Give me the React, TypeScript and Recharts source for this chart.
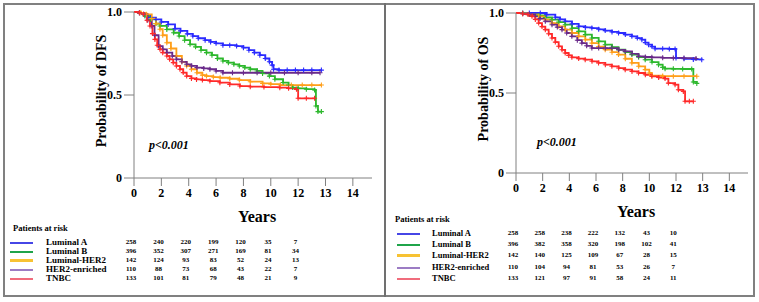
import { LineChart, Line, XAxis, YAxis } from 'recharts';

// time is in axis units (ticks every 2 units, labelled 0..12, 13, 14)
const xTickValues = [0, 2, 4, 6, 8, 10, 12, 14, 16];
const xTickLabels = ['0', '2', '4', '6', '8', '10', '12', '13', '14'];
const yTickValues = [0, 0.5, 1];

const groups = ['Luminal A', 'Luminal B', 'Luminal-HER2', 'HER2-enriched', 'TNBC'];
const lineColors = ['#2b2bff', '#2db82d', '#ff9f1a', '#6a2a8a', '#ff2a2a'];
const legendColors = ['#4646e6', '#1fa44a', '#f7c233', '#9c7cc4', '#f06c7c'];
const legendWidths = [1.5, 2, 3, 1.5, 1.5];

type Pt = [number, number];

const dfsLuminalA: Pt[] = [[0, 1], [0.4, 0.995], [0.8, 0.98], [1.2, 0.966], [1.6, 0.955], [2.0, 0.94], [2.5, 0.925], [3.0, 0.9], [3.4, 0.886], [3.9, 0.868], [4.3, 0.855], [4.7, 0.842], [5.2, 0.83], [5.6, 0.82], [6.0, 0.811], [6.5, 0.8], [7.0, 0.8], [7.5, 0.795], [8.0, 0.785], [8.4, 0.77], [8.8, 0.755], [9.2, 0.74], [9.6, 0.72], [9.9, 0.7], [10.1, 0.68], [10.2, 0.655], [10.6, 0.65], [11.2, 0.65], [11.8, 0.65], [12.4, 0.65], [13.0, 0.65], [13.7, 0.65]];
const dfsLuminalB: Pt[] = [[0, 1], [0.4, 0.995], [0.8, 0.976], [1.2, 0.955], [1.6, 0.93], [1.9, 0.916], [2.4, 0.895], [2.9, 0.875], [3.3, 0.855], [3.7, 0.83], [4.1, 0.805], [4.5, 0.79], [4.9, 0.77], [5.3, 0.755], [5.7, 0.74], [6.1, 0.72], [6.5, 0.705], [6.9, 0.695], [7.3, 0.685], [7.7, 0.675], [8.1, 0.665], [8.5, 0.655], [9.0, 0.645], [9.4, 0.63], [9.9, 0.614], [10.3, 0.595], [10.9, 0.575], [11.3, 0.56], [11.6, 0.545], [12.0, 0.54], [12.6, 0.535], [13.2, 0.53], [13.3, 0.434], [13.45, 0.4], [13.7, 0.4]];
const dfsLuminalHer2: Pt[] = [[0, 1], [0.5, 0.995], [0.9, 0.986], [1.3, 0.96], [1.6, 0.93], [1.9, 0.896], [2.1, 0.86], [2.4, 0.815], [2.7, 0.78], [3.1, 0.735], [3.5, 0.7], [3.85, 0.675], [4.2, 0.655], [4.6, 0.634], [5.0, 0.62], [5.3, 0.614], [5.8, 0.608], [6.3, 0.604], [7.0, 0.598], [7.7, 0.59], [8.5, 0.58], [9.4, 0.57], [10.0, 0.565], [10.7, 0.56], [11.5, 0.56], [12.3, 0.56], [13.0, 0.56], [13.7, 0.56]];
const dfsHer2Enriched: Pt[] = [[0, 1], [0.4, 0.995], [0.7, 0.986], [1.0, 0.95], [1.3, 0.916], [1.5, 0.86], [1.8, 0.795], [2.1, 0.775], [2.4, 0.755], [2.8, 0.735], [3.1, 0.715], [3.5, 0.7], [3.85, 0.685], [4.2, 0.675], [4.6, 0.665], [5.1, 0.66], [5.55, 0.655], [6.0, 0.645], [6.5, 0.634], [7.2, 0.634], [8.0, 0.634], [9.0, 0.634], [10.0, 0.634], [11.0, 0.634], [12.0, 0.634], [13.0, 0.634], [13.6, 0.634]];
const dfsTnbc: Pt[] = [[0, 1], [0.4, 0.995], [0.7, 0.986], [0.95, 0.95], [1.17, 0.916], [1.35, 0.87], [1.53, 0.835], [1.7, 0.8], [1.9, 0.775], [2.1, 0.755], [2.4, 0.735], [2.6, 0.715], [2.87, 0.695], [3.1, 0.675], [3.36, 0.655], [3.6, 0.635], [3.85, 0.614], [4.2, 0.6], [4.57, 0.594], [5.0, 0.59], [5.55, 0.584], [6.28, 0.574], [7.0, 0.564], [7.74, 0.554], [8.5, 0.55], [9.5, 0.548], [10.66, 0.544], [11.3, 0.54], [11.88, 0.534], [12.0, 0.48], [12.6, 0.48], [13.2, 0.48]];

const osLuminalA: Pt[] = [[0, 1], [0.5, 1], [1.0, 1], [1.82, 1], [2.3, 0.99], [2.95, 0.973], [3.3, 0.96], [3.69, 0.948], [4.2, 0.932], [4.7, 0.917], [5.2, 0.91], [5.69, 0.906], [6.2, 0.898], [6.69, 0.89], [7.2, 0.882], [7.69, 0.875], [8.2, 0.865], [8.69, 0.854], [9.1, 0.843], [9.44, 0.833], [9.7, 0.815], [9.94, 0.802], [10.2, 0.79], [10.43, 0.777], [11.0, 0.777], [11.5, 0.775], [11.93, 0.775], [12.0, 0.719], [12.6, 0.714], [13.3, 0.71], [13.93, 0.708]];
const osLuminalB: Pt[] = [[0, 1], [0.5, 0.998], [1.0, 0.99], [1.7, 0.985], [2.2, 0.972], [2.7, 0.958], [3.2, 0.943], [3.69, 0.927], [4.2, 0.905], [4.7, 0.885], [5.2, 0.865], [5.69, 0.844], [6.2, 0.823], [6.69, 0.802], [7.2, 0.786], [7.69, 0.771], [8.2, 0.756], [8.69, 0.74], [9.2, 0.724], [9.69, 0.708], [10.2, 0.693], [10.69, 0.677], [11.0, 0.66], [11.18, 0.652], [11.8, 0.651], [12.5, 0.65], [13.18, 0.65], [13.3, 0.569], [13.56, 0.56]];
const osLuminalHer2: Pt[] = [[0, 1], [0.5, 0.998], [1.0, 0.99], [1.7, 0.979], [2.2, 0.958], [2.7, 0.937], [3.2, 0.917], [3.69, 0.896], [4.2, 0.875], [4.7, 0.854], [5.2, 0.833], [5.69, 0.812], [6.2, 0.79], [6.69, 0.771], [7.2, 0.755], [7.69, 0.74], [8.2, 0.714], [8.69, 0.688], [9.2, 0.667], [9.69, 0.646], [10.0, 0.625], [10.19, 0.608], [11.0, 0.606], [11.8, 0.605], [12.6, 0.605], [13.56, 0.605]];
const osHer2Enriched: Pt[] = [[0, 1], [0.5, 0.995], [1.0, 0.99], [1.45, 0.979], [1.8, 0.965], [2.2, 0.948], [2.7, 0.927], [3.1, 0.912], [3.45, 0.896], [3.8, 0.875], [4.19, 0.854], [4.6, 0.83], [4.94, 0.812], [5.3, 0.795], [5.69, 0.781], [6.2, 0.781], [6.7, 0.781], [7.19, 0.781], [7.7, 0.77], [8.19, 0.76], [8.7, 0.745], [9.19, 0.729], [9.7, 0.725], [10.19, 0.723], [11.0, 0.72], [11.8, 0.719], [12.6, 0.718], [13.5, 0.716]];
const osTnbc: Pt[] = [[0, 1], [0.5, 0.995], [0.9, 0.99], [1.2, 0.979], [1.45, 0.96], [1.7, 0.937], [1.95, 0.915], [2.2, 0.896], [2.45, 0.87], [2.7, 0.844], [2.95, 0.818], [3.2, 0.792], [3.45, 0.77], [3.69, 0.75], [3.95, 0.735], [4.19, 0.723], [4.7, 0.715], [5.19, 0.708], [5.7, 0.698], [6.19, 0.688], [6.7, 0.677], [7.19, 0.667], [7.7, 0.656], [8.19, 0.646], [8.7, 0.635], [9.19, 0.625], [9.7, 0.614], [10.19, 0.604], [10.7, 0.597], [11.18, 0.59], [11.43, 0.562], [11.93, 0.552], [12.18, 0.52], [12.55, 0.51], [12.68, 0.448], [13.0, 0.448], [13.3, 0.448]];

const dfsAtRisk = [
  [258, 240, 220, 199, 120, 35, 7],
  [396, 352, 307, 271, 169, 81, 34],
  [142, 124, 93, 83, 52, 24, 13],
  [110, 88, 73, 68, 43, 22, 7],
  [133, 101, 81, 79, 48, 21, 9],
];
const osAtRisk = [
  [258, 258, 238, 222, 132, 43, 10],
  [396, 382, 358, 320, 198, 102, 41],
  [142, 140, 125, 109, 67, 28, 15],
  [110, 104, 94, 81, 53, 26, 7],
  [133, 121, 97, 91, 58, 24, 11],
];

const SERIF = "'Liberation Serif', 'DejaVu Serif', serif";
const AXIS = '#808080';

const toRows = (pts: Pt[]) => pts.map(([t, s]) => ({ t, s }));

const censorDot = (color: string) => (p: any) => {
  const { cx, cy, index } = p;
  if (index === 0 || cx == null) return <g key={index} />;
  return (
    <path
      key={index}
      d={`M${cx - 2.5},${cy}h5M${cx},${cy - 2.5}v5`}
      stroke={color}
      strokeWidth={1.1}
      fill="none"
    />
  );
};

function KMPanel({
  series,
  yTitle,
  width,
  height,
  plotLeft,
  plotTop,
  plotRight,
  plotBottom,
}: {
  series: Pt[][];
  yTitle: string;
  width: number;
  height: number;
  plotLeft: number;
  plotTop: number;
  plotRight: number;
  plotBottom: number;
}) {
  const tickStyle = { fill: '#000', fontSize: 12, fontWeight: 'bold', fontFamily: SERIF };
  return (
    <LineChart
      width={width}
      height={height}
      margin={{ top: plotTop, right: width - plotRight, left: 0, bottom: 0 }}
      style={{ fontFamily: SERIF }}
    >
      <XAxis
        dataKey="t"
        type="number"
        domain={[0, 17.4]}
        ticks={xTickValues}
        tickFormatter={(v: number) => xTickLabels[xTickValues.indexOf(v)] ?? ''}
        height={height - plotBottom}
        tickSize={8}
        stroke={AXIS}
        tick={tickStyle}
        allowDataOverflow
        label={(props: any) => {
          const vb = props.viewBox;
          return (
            <text
              x={vb.x + vb.width / 2 + 4}
              y={plotBottom + 44}
              textAnchor="middle"
              style={{ fontFamily: SERIF, fontWeight: 'bold', fontSize: 16 }}
              fill="#000"
            >
              Years
            </text>
          );
        }}
      />
      <YAxis
        type="number"
        domain={[0, 1]}
        ticks={yTickValues}
        tickFormatter={(v: number) => (v === 0 ? '0' : v === 1 ? '1.0' : String(v))}
        width={plotLeft}
        tickSize={10}
        stroke={AXIS}
        tick={tickStyle}
        label={(props: any) => {
          const vb = props.viewBox;
          const cx = plotLeft - 33;
          const cy = vb.y + vb.height / 2 - 4;
          return (
            <text
              x={cx}
              y={cy}
              transform={`rotate(-90, ${cx}, ${cy})`}
              textAnchor="middle"
              dominantBaseline="central"
              style={{ fontFamily: SERIF, fontWeight: 'bold', fontSize: 14 }}
              fill="#000"
            >
              {yTitle}
            </text>
          );
        }}
      />
      {series.map((pts, i) => (
        <Line
          key={groups[i]}
          data={toRows(pts)}
          dataKey="s"
          type="stepAfter"
          stroke={lineColors[i]}
          strokeWidth={1.8}
          dot={censorDot(lineColors[i])}
          activeDot={false}
          isAnimationActive={false}
        />
      ))}
    </LineChart>
  );
}

function AtRiskTable({
  counts,
  left,
  titleY,
  firstRowY,
  rowGap,
  lineX,
  labelX,
  labelSize,
  colX,
}: {
  counts: number[][];
  left: number;
  titleY: number;
  firstRowY: number;
  rowGap: number;
  lineX: [number, number];
  labelX: number;
  labelSize: number;
  colX: number[];
}) {
  const base = { position: 'absolute' as const, fontFamily: SERIF, fontWeight: 'bold' as const, color: '#000', lineHeight: 1, whiteSpace: 'nowrap' as const };
  return (
    <>
      <div style={{ ...base, left, top: titleY - 4.5, fontSize: 8.5 }}>Patients at risk</div>
      {groups.map((g, r) => {
        const y = Math.round(firstRowY + r * rowGap);
        return (
          <div key={g}>
            <div
              style={{
                position: 'absolute',
                left: lineX[0],
                width: lineX[1] - lineX[0],
                top: y - Math.round(legendWidths[r] / 2),
                height: legendWidths[r],
                background: legendColors[r],
              }}
            />
            <div style={{ ...base, left: labelX, top: y - labelSize / 2 - 1, fontSize: labelSize }}>{g}</div>
            {counts[r].map((n, c) => (
              <div
                key={c}
                style={{ ...base, left: colX[c] - 10, width: 20, textAlign: 'center', top: y - 4, fontSize: 7 }}
              >
                {n}
              </div>
            ))}
          </div>
        );
      })}
    </>
  );
}

export default function App() {
  const leftCols = [0, 1, 2, 3, 4, 5, 6].map((i) => 134 + 27.4 * i - 3);
  const rightCols = [0, 1, 2, 3, 4, 5, 6].map((i) => 516 + 26.7 * i - 3);
  return (
    <div style={{ position: 'absolute', left: 0, top: 0, width: 759, height: 302, background: '#fff', overflow: 'hidden', fontFamily: SERIF }}>
      <div style={{ position: 'absolute', left: 3, top: 3, width: 752, height: 294, border: `2px solid ${AXIS}`, boxSizing: 'border-box' }} />
      <div style={{ position: 'absolute', left: 384, top: 3, width: 2, height: 294, background: '#707070' }} />

      <div style={{ position: 'absolute', left: 0, top: 0 }}>
        <KMPanel
          series={[dfsLuminalA, dfsLuminalB, dfsLuminalHer2, dfsHer2Enriched, dfsTnbc]}
          yTitle="Probability of DFS"
          width={380}
          height={230}
          plotLeft={134}
          plotTop={12}
          plotRight={372}
          plotBottom={178}
        />
      </div>
      <div style={{ position: 'absolute', left: 380, top: 0 }}>
        <KMPanel
          series={[osLuminalA, osLuminalB, osLuminalHer2, osHer2Enriched, osTnbc]}
          yTitle="Probability of OS"
          width={379}
          height={230}
          plotLeft={136}
          plotTop={13}
          plotRight={368}
          plotBottom={173}
        />
      </div>

      <div style={{ position: 'absolute', left: 149, top: 139, fontFamily: SERIF, fontWeight: 'bold', fontStyle: 'italic', fontSize: 12, lineHeight: 1 }}>
        p&lt;0.001
      </div>
      <div style={{ position: 'absolute', left: 537, top: 136, fontFamily: SERIF, fontWeight: 'bold', fontStyle: 'italic', fontSize: 12, lineHeight: 1 }}>
        p&lt;0.001
      </div>

      <AtRiskTable
        counts={dfsAtRisk}
        left={13}
        titleY={228}
        firstRowY={243}
        rowGap={9}
        lineX={[10, 33]}
        labelX={46}
        labelSize={9}
        colX={leftCols}
      />
      <AtRiskTable
        counts={osAtRisk}
        left={395}
        titleY={219}
        firstRowY={234}
        rowGap={11.2}
        lineX={[397, 420]}
        labelX={432}
        labelSize={8.5}
        colX={rightCols}
      />
    </div>
  );
}
